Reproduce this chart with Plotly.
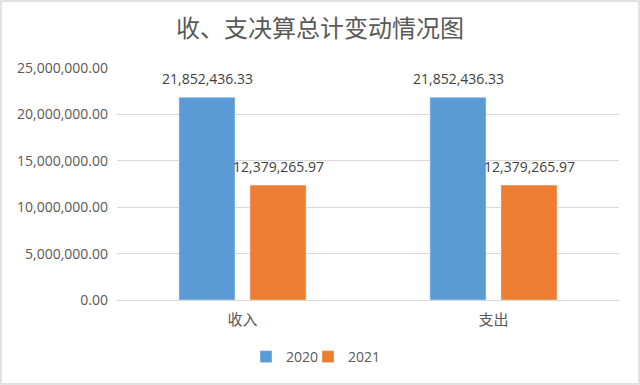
import plotly.graph_objects as go

categories = ["收入", "支出"]
series_names = ["2020", "2021"]
values_2020 = [21852436.33, 21852436.33]
values_2021 = [12379265.97, 12379265.97]
colors = ["#5b9bd5", "#ed7d31"]
tick_vals = [0, 5000000, 10000000, 15000000, 20000000, 25000000]
tick_text = ["0.00", "5,000,000.00", "10,000,000.00", "15,000,000.00", "20,000,000.00", "25,000,000.00"]

font_family = "Open Sans, Noto Sans CJK SC, sans-serif"
cjk_family = "Noto Sans CJK SC, sans-serif"

W, H = 640, 385
ml, mr, mt, mb = 117, 21, 68, 85
pw, ph = W - ml - mr, H - mt - mb

fig = go.Figure()
annotations = []
offsets = [-35.5, 35.5]
legend_ids = ["legend", "legend2"]
for name, vals, col, off, lg in zip(series_names, [values_2020, values_2021], colors, offsets, legend_ids):
    fig.add_trace(go.Bar(x=categories, y=vals, name=name, marker_color=col, legend=lg))
    for c, v in zip(categories, vals):
        annotations.append(dict(x=c, y=v, xref="x", yref="y", text=f"{v:,.2f}",
                                showarrow=False, xshift=off, yshift=19, yanchor="middle",
                                font=dict(size=14, color="#404040", family=font_family)))

legend_style = dict(orientation="h", xref="container", yref="container", xanchor="left",
                    y=1 - 357 / H, yanchor="middle", bgcolor="rgba(0,0,0,0)",
                    font=dict(size=14, color="#595959"), itemwidth=30)

fig.update_layout(
    width=W, height=H,
    margin=dict(l=ml, r=mr, t=mt, b=mb),
    paper_bgcolor="white", plot_bgcolor="white",
    font=dict(family=font_family, color="#595959", size=13),
    title=dict(text="收、支决算总计变动情况图", x=0.5, xanchor="center",
               y=1 - 29 / H, yanchor="middle",
               font=dict(size=24, color="#595959", family=cjk_family)),
    barmode="group", bargap=0.434, bargroupgap=0.21,
    showlegend=True,
    legend=dict(x=246 / W, **legend_style),
    legend2=dict(x=308 / W, **legend_style),
    xaxis=dict(showline=True, linecolor="#d9d9d9", linewidth=1, ticks="",
               tickfont=dict(size=15, color="#595959", family=cjk_family),
               ticklabelstandoff=6),
    yaxis=dict(range=[0, 25000000], tickvals=tick_vals, ticktext=tick_text,
               showgrid=True, gridcolor="#d9d9d9", gridwidth=1, zeroline=False,
               ticks="", tickfont=dict(size=14, color="#595959"), ticklabelstandoff=8),
    annotations=annotations,
    shapes=[dict(type="rect", xref="paper", yref="paper",
                 x0=-(ml - 1) / pw, x1=1 + (mr - 1) / pw,
                 y0=-(mb - 1) / ph, y1=1 + (mt - 1) / ph,
                 line=dict(color="#d9d9d9", width=1.5), layer="below")],
)

fig.write_html("out.html", config={"displayModeBar": False},
               post_script="document.body.style.margin='0';document.body.style.overflow='hidden';")
